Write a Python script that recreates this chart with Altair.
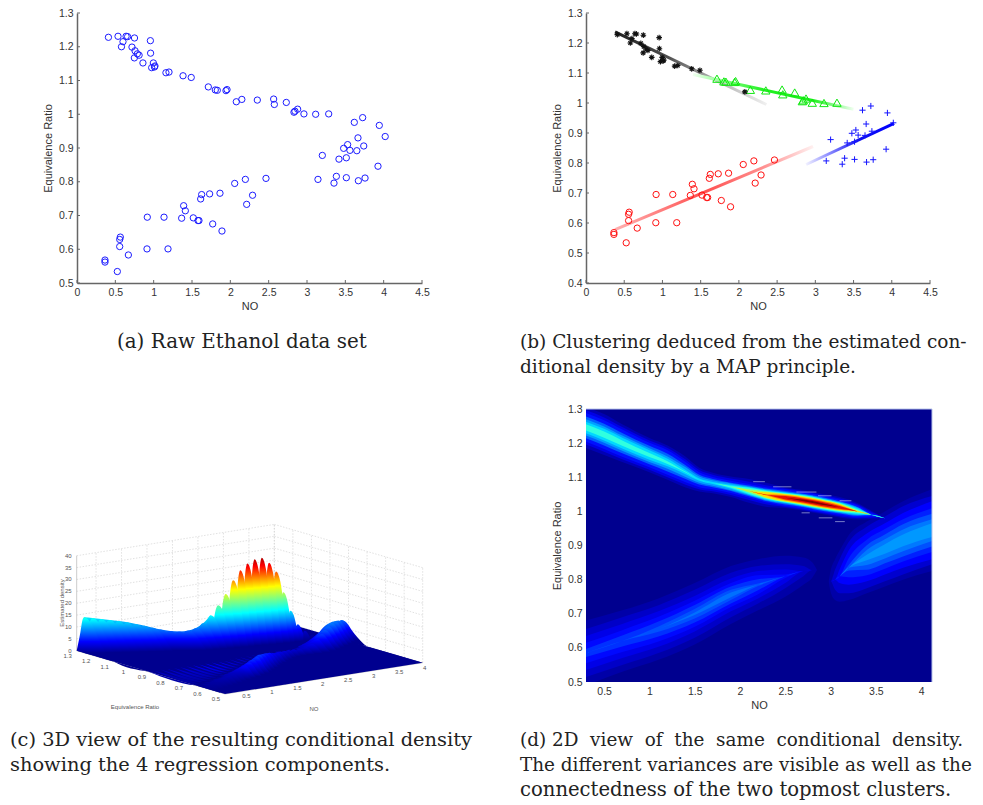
import altair as alt
import pandas as pd

# ---------- scatter data (NO, Equivalence Ratio), by cluster ----------
black_no = [.41,.535,.64,.66,.75,.60,.58,.957,.717,.757,.96,.787,.81,.748,.86,.996,.974,1.017,1.01,1.16,1.2,1.383,1.49,2.078]
black_er = [1.228,1.231,1.231,1.230,1.226,1.215,1.200,1.218,1.199,1.188,1.181,1.179,1.175,1.167,1.152,1.152,1.138,1.143,1.140,1.123,1.125,1.114,1.109,1.037]
green_no = [1.713,1.804,1.83,1.943,1.957,2.15,2.352,2.565,2.574,2.73,2.83,2.843,2.878,2.96,3.113,3.283]
green_er = [1.081,1.072,1.071,1.070,1.073,1.044,1.042,1.045,1.029,1.035,1.006,1.009,1.015,1.001,1.000,1.001]
blue_no = [3.617,3.726,3.943,4.02,3.665,3.53,3.478,3.56,3.65,3.74,3.513,3.417,3.2,3.926,3.383,3.143,3.352,3.513,3.67,3.757]
blue_er = [.976,.990,.967,.934,.930,.910,.899,.893,.892,.906,.871,.867,.878,.846,.816,.807,.796,.812,.803,.811]
red_no = [2.465,2.196,2.057,1.865,1.73,1.626,1.613,2.29,2.213,1.391,1.413,.917,1.135,1.365,1.517,1.578,1.591,1.77,1.891,.565,.557,.557,.913,1.187,.67,.365,.365,.526]
red_er = [.810,.807,.795,.766,.764,.762,.749,.760,.733,.729,.714,.695,.695,.692,.693,.685,.685,.675,.654,.636,.629,.608,.601,.601,.583,.568,.562,.534]

# regression lines of panel (b): end points and colour stops
reg_lines = [
    ([.38, 2.36], [1.237, .995], [(0, "#202020"), (.35, "#505050"), (.6, "#a0a0a0"), (1, "#f0f0f0")]),
    ([1.4, 3.5], [1.095, .979], [(0, "#f0fff0"), (.2, "#80ff80"), (.45, "#20f020"), (.75, "#20f020"), (1, "#f0fff0")]),
    ([.38, 2.97], [.578, .855], [(0, "#ffb0b0"), (.45, "#ff5050"), (.75, "#ff9090"), (1, "#fff0f0")]),
    ([2.88, 4.03], [.795, .932], [(0, "#f0f0ff"), (.25, "#9090ff"), (.6, "#1010f0"), (1, "#0000ff")]),
]

SANS = "Liberation Sans"
SERIF = "DejaVu Serif"
INK = "#333333"
TOP1 = 13
H1 = 270
NB = "\u00a0"


def caption(lines, left, top):
    out = []
    for px, py, size, text in lines:
        out.append(alt.Chart(pd.DataFrame({"t": [text]})).mark_text(
            font=SERIF, fontSize=size, align="left", baseline="alphabetic", color="#222222"
        ).encode(x=alt.value(px - left), y=alt.value(py - top), text="t:N"))
    return out


def df(no, er):
    return pd.DataFrame({"no": no, "er": er})


def axes(xdom, ydom, xticks, yticks, inner=True):
    X = alt.X("no:Q", scale=alt.Scale(domain=xdom, nice=False, zero=False), axis=alt.Axis(
        values=xticks, format=".1~f", title="NO", ticks=False, grid=False, labelFont=SANS, titleFont=SANS,
        labelFontSize=10.5, titleFontSize=11, titleFontWeight="normal", labelColor=INK, titleColor=INK,
        domainColor="#666666" if inner else "#ffffff00", domainWidth=1.5, labelPadding=4, titlePadding=3, labelFlush=False))
    Y = alt.Y("er:Q", scale=alt.Scale(domain=ydom, nice=False, zero=False), axis=alt.Axis(
        values=yticks, format=".1~f", title="Equivalence Ratio", ticks=False, grid=False, labelFont=SANS, titleFont=SANS,
        labelFontSize=10.5, titleFontSize=11, titleFontWeight="normal", labelColor=INK, titleColor=INK,
        domainColor="#666666" if inner else "#ffffff00", domainWidth=1.5, labelPadding=4, titlePadding=5))
    return X, Y


def inward_ticks(X, Y, xticks, yticks, h):
    t1 = alt.Chart(pd.DataFrame({"no": xticks})).mark_rule(color="#666666", strokeWidth=1).encode(
        x=X, y=alt.value(h), y2=alt.value(h - 3))
    t2 = alt.Chart(pd.DataFrame({"er": yticks})).mark_rule(color="#666666", strokeWidth=1).encode(
        y=Y, x=alt.value(0), x2=alt.value(3))
    return [t1, t2]


# ---------- panel (a) ----------
x_ticks = [0, .5, 1, 1.5, 2, 2.5, 3, 3.5, 4, 4.5]
y_a = [.5, .6, .7, .8, .9, 1, 1.1, 1.2, 1.3]
Xa, Ya = axes([0, 4.5], [.5, 1.3], x_ticks, y_a)
all_no = black_no + green_no + blue_no + red_no
all_er = black_er + green_er + blue_er + red_er
panel_a = alt.layer(
    *inward_ticks(Xa, Ya, x_ticks, y_a, H1),
    alt.Chart(df(all_no, all_er)).mark_point(shape="circle", filled=False, size=40, color="#1c1cff", strokeWidth=1, opacity=1).encode(x=Xa, y=Ya),
    *caption([(117, 348, 19.9, "(a) Raw Ethanol data set")], 77, TOP1),
).properties(width=345, height=H1)

# ---------- panel (b) ----------
y_b = [.4, .5, .6, .7, .8, .9, 1, 1.1, 1.2, 1.3]
Xb, Yb = axes([0, 4.5], [.4, 1.3], x_ticks, y_b)
PLUS = "M-1,0L1,0M0,-1L0,1"
STAR = "M-1,0L1,0M0,-1L0,1M-.7,-.7L.7,.7M-.7,.7L.7,-.7"
b_layers = inward_ticks(Xb, Yb, x_ticks, y_b, H1)
for xs, ys, stops in reg_lines:
    grad = alt.LinearGradient(gradient="linear", x1=0, x2=1, y1=0, y2=0,
                              stops=[alt.GradientStop(offset=o, color=c) for o, c in stops])
    b_layers.append(alt.Chart(df(xs, ys)).mark_line(stroke=grad, strokeWidth=3).encode(x=Xb, y=Yb))
b_layers += [
    alt.Chart(df(red_no, red_er)).mark_point(shape="circle", filled=False, size=40, color="#ff1010", strokeWidth=1, opacity=1).encode(x=Xb, y=Yb),
    alt.Chart(df(green_no, green_er)).mark_point(shape="triangle-up", filled=False, size=70, color="#10e810", strokeWidth=1, opacity=1).encode(x=Xb, y=Yb),
    alt.Chart(df(blue_no, blue_er)).mark_point(shape=PLUS, filled=False, size=38, color="#1414ff", strokeWidth=1, opacity=1).encode(x=Xb, y=Yb),
    alt.Chart(df(black_no, black_er)).mark_point(shape=STAR, filled=False, size=32, color="#111111", strokeWidth=1.1, opacity=1).encode(x=Xb, y=Yb),
]
b_layers += caption([(520, 348, 18.5, "(b)  Clustering deduced from the estimated con-"),
                     (520, 373, 18.5, "ditional density by a MAP principle.")], 586, TOP1)
panel_b = alt.layer(*b_layers).properties(width=344, height=H1)

# ---------- panel (c): 3D view, slices of the density at constant NO ----------
slice_no = [.12,.24,.36,.48,.6,.72,.84,.96,1.08,1.2,1.32,1.44,1.56,1.68,1.8,1.92,2.04,2.16,2.28,2.4,2.52,2.64,2.76,2.88,3.0,3.12,3.24,3.36,3.48,3.6,3.72,3.84,3.96,4.0]
up_center = [1.26,1.248,1.234,1.22,1.206,1.192,1.178,1.164,1.152,1.143,1.125,1.108,1.092,1.085,1.078,1.071,1.064,1.057,1.05,1.044,1.039,1.033,1.027,1.021,1.016,1.01,1.004,.998,.992,.986,.98,.975,.97,.97]
up_peak = [15,14.6,14,13.5,13,12.4,11.6,10.8,9.8,8.8,8.2,8,8.4,9.2,11,14,18,22.5,28,32,34.5,36,36.4,34,30,21,13,7,4,2,1,.5,.1,.1]
up_width = [.16,.16,.16,.16,.16,.16,.16,.16,.16,.16,.15,.15,.15,.14,.13,.12,.11,.10,.10,.09,.09,.09,.09,.09,.09,.08,.07,.06,.05,.05,.05,.05,.05,.05]
lo_center = [.57,.58,.59,.60,.61,.62,.635,.645,.655,.665,.68,.69,.71,.725,.74,.755,.77,.78,.795,.805,.815,.82,.82,.82,.82,.825,.835,.85,.865,.88,.895,.91,.925,.93]
lo_peak = [2,2.4,2.8,3.2,3.4,3.6,4,4.6,5.2,5.8,6.4,6.8,6.8,6.4,6,5.4,4.6,4.2,3.8,3.4,3.2,3,2.8,3,4,5.5,7,8,8.8,9.4,9.4,9,8.4,8]
lo_width = [.09,.09,.09,.09,.09,.09,.095,.095,.095,.1,.1,.1,.1,.1,.1,.095,.09,.085,.08,.075,.07,.06,.06,.08,.1,.11,.12,.125,.125,.13,.13,.13,.13,.13]
jet_z = [0, 4.75, 14, 19, 24, 33, 38.5]
jet_c = [(0, 0, 143), (0, 0, 255), (0, 255, 255), (128, 255, 128), (255, 255, 0), (255, 0, 0), (128, 0, 0)]
z_ticks = [0, 5, 10, 15, 20, 25, 30, 35, 40]
er_ticks3 = [1.3, 1.2, 1.1, 1, .9, .8, .7, .6, .5]
no_ticks3 = [.5, 1, 1.5, 2, 2.5, 3, 3.5, 4]


def proj(no, er, z=0.0):
    return (225 + 50.95 * (no - .12) - 185.4 * (er - .5),
            694 - 8.07 * (no - .12) - 54.1 * (er - .5) - 2.375 * z)


def hexcol(c):
    return "#%02x%02x%02x" % tuple(int(round(v)) for v in c)


def jet(z):
    for i in range(len(jet_z) - 1):
        if z <= jet_z[i + 1]:
            f = (z - jet_z[i]) / (jet_z[i + 1] - jet_z[i])
            return hexcol([a + (b - a) * f for a, b in zip(jet_c[i], jet_c[i + 1])])
    return hexcol(jet_c[-1])


XC = alt.X("px:Q", scale=alt.Scale(domain=[77, 422], nice=False, zero=False), axis=None)
YC = alt.Y("py:Q", scale=alt.Scale(domain=[682, 409], nice=False, zero=False), axis=None)
X2C = alt.X2("px2:Q")
Y2C = alt.Y2("py2:Q")


def seg_rows(segs):
    rows = []
    for a, b in segs:
        p, q = proj(*a), proj(*b)
        rows.append({"px": p[0], "py": p[1], "px2": q[0], "py2": q[1]})
    return pd.DataFrame(rows)


grid_segs = []
for z in z_ticks:
    grid_segs.append(((.12, 1.3, z), (4, 1.3, z)))
    grid_segs.append(((4, 1.3, z), (4, .5, z)))
for n in no_ticks3:
    grid_segs.append(((n, 1.3, 0), (n, 1.3, 40)))
for e in er_ticks3:
    grid_segs.append(((4, e, 0), (4, e, 40)))

c_layers = [
    alt.Chart(seg_rows(grid_segs)).mark_rule(color="#d4d4d4", strokeWidth=.7, strokeDash=[1.5, 1.5]).encode(x=XC, y=YC, x2=X2C, y2=Y2C),
    alt.Chart(seg_rows([((.12, 1.3, 0), (.12, 1.3, 40)), ((.12, 1.3, 0), (.12, .5, 0)), ((.12, .5, 0), (4, .5, 0))])).mark_rule(
        color="#c0c0c0", strokeWidth=.8).encode(x=XC, y=YC, x2=X2C, y2=Y2C),
]

# floor of the surface, on which the slices stand
cL, cF, cB, cR = proj(.12, 1.3), proj(.12, .5), proj(4, 1.3), proj(4, .5)
floor_rows = [
    {"px": cL[0], "py": cL[1], "py2": cL[1]},
    {"px": cF[0], "py": cL[1] + (cB[1] - cL[1]) * (cF[0] - cL[0]) / (cB[0] - cL[0]), "py2": cF[1]},
    {"px": cB[0], "py": cB[1], "py2": cF[1] + (cR[1] - cF[1]) * (cB[0] - cF[0]) / (cR[0] - cF[0])},
    {"px": cR[0], "py": cR[1], "py2": cR[1]},
]
c_layers.append(alt.Chart(pd.DataFrame(floor_rows)).mark_area(color=hexcol(jet_c[0])).encode(x=XC, y=YC, y2=alt.Y2("py2:Q")))


def piece(no, knots):
    rows = []
    for er, z in knots:
        tx, ty = proj(no, er, z)
        bx, by = proj(no, er, 0)
        rows.append({"px": tx, "py": ty, "py2": by})
    d = pd.DataFrame(rows)
    ymin = d["py"].min()
    ymax = d["py2"].max()
    peak_i = max(range(len(knots)), key=lambda i: knots[i][1])
    base_y = rows[peak_i]["py2"]
    peak = knots[peak_i][1]
    span = max(ymax - ymin, .1)

    def off(z):
        return min(1, max(0, (base_y - 2.375 * z - ymin) / span))

    stops = [(0.0, jet(peak))]
    for zv, cv in reversed(list(zip(jet_z, jet_c))):
        if zv < peak:
            o = off(zv)
            if o > stops[-1][0]:
                stops.append((o, hexcol(cv)))
    stops.append((1.0, hexcol(jet_c[0])))
    grad = alt.LinearGradient(gradient="linear", x1=0, x2=0, y1=0, y2=1,
                              stops=[alt.GradientStop(offset=o, color=c) for o, c in stops])
    return alt.Chart(d).mark_area(fill=grad, interpolate="monotone", line=False).encode(x=XC, y=YC, y2=alt.Y2("py2:Q"))


ENVELOPE_FROM = 15  # index of the first slice whose crest is joined to the nearer ones
for i in reversed(range(len(slice_no))):
    n, c, p, w, lc, lp, lw = slice_no[i], up_center[i], up_peak[i], up_width[i], lo_center[i], lo_peak[i], lo_width[i]
    split = max(((c - w) + (lc + lw)) / 2, (c + lc) / 2)
    wt = min(w * .5, 1.3 - c)
    upper = [(1.3, 0), (c + wt, 0), (c + wt * .5, p * .55), (c + wt * .25, p * .88), (c, p),
             (c - w * .25, p * .88), (c - w * .5, p * .5), (c - w * .75, p * .15), (c - w, 0), (split, 0)]
    lower = [(split, 0), (lc + lw, 0), (lc + lw * .5, lp * .45), (lc, lp), (lc - lw * .5, lp * .45), (lc - lw, 0), (.5, 0)]
    upper = [k for j, k in enumerate(upper) if k[0] >= split and (j == 0 or k[0] < upper[j - 1][0])]
    lower = [k for j, k in enumerate(lower) if k[0] <= split and k[0] >= .5 and (j == 0 or k[0] < lower[j - 1][0])]
    if i == ENVELOPE_FROM:
        rows = []
        for j in range(0, ENVELOPE_FROM + 1):
            tx, ty = proj(slice_no[j], up_center[j], up_peak[j])
            rows.append({"px": tx, "py": ty, "py2": proj(slice_no[j], up_center[j], 0)[1]})
        env = alt.LinearGradient(gradient="linear", x1=0, x2=0, y1=0, y2=1, stops=[
            alt.GradientStop(offset=0, color=jet(14)), alt.GradientStop(offset=.45, color=jet(8)), alt.GradientStop(offset=1, color=jet(2))])
        c_layers.append(alt.Chart(pd.DataFrame(rows)).mark_area(fill=env, interpolate="monotone", line=False).encode(x=XC, y=YC, y2=alt.Y2("py2:Q")))
    c_layers.append(piece(n, upper))
    c_layers.append(piece(n, lower))


def small_text(rows, angle=0, align="center"):
    d = pd.DataFrame(rows, columns=["px", "py", "t"])
    return alt.Chart(d).mark_text(font=SANS, fontSize=6, color="#555555", angle=angle, align=align, baseline="middle").encode(x=XC, y=YC, text="t:N")


z_rows = [(proj(.12, 1.3, z)[0] - 5, proj(.12, 1.3, z)[1], f"{z}") for z in z_ticks]
er_rows = [(proj(.12, e)[0] - 9, proj(.12, e)[1] + 5, f"{e:g}") for e in er_ticks3]
no_rows = [(proj(n, .5)[0] + 2, proj(n, .5)[1] + 5, f"{n:g}") for n in no_ticks3]
c_layers += [small_text(z_rows, align="right"), small_text(er_rows), small_text(no_rows),
             small_text([(135, 707, "Equivalence Ratio")]), small_text([(314, 709, "NO")]),
             small_text([(62, 603, "Estimated density")], angle=270)]
c_layers += caption([(10, 746, 19.4, "(c) 3D view of the resulting conditional density"),
                     (10, 771, 19.4, "showing the 4 regression components.")], 77, 409)
panel_c = alt.layer(*c_layers).properties(width=345, height=273)

# ---------- panel (d): filled density bands ----------
# top ridge: station NO, ridge centre, then half-width of each colour band
top_no = [.3,.5,.7,1.0,1.2,1.4,1.55,1.7,1.9,2.1,2.3,2.5,2.7,2.9,3.1,3.3,3.45,3.6]
top_center = [1.246,1.225,1.20,1.165,1.143,1.115,1.093,1.083,1.072,1.060,1.048,1.040,1.032,1.022,1.012,1.000,.99,.98]
top_bands = [
    ("#0000b4", [.06,.06,.055,.05,.05,.045,.035,.03,.03,.035,.035,.03,.03,.03,.03,.024,.012,0]),
    ("#0000e6", [.05,.05,.047,.043,.043,.037,.028,.024,.024,.027,.028,.027,.027,.027,.026,.02,.009,0]),
    ("#0010ff", [.042,.042,.04,.036,.036,.03,.022,.018,.018,.02,.022,.024,.024,.024,.022,.017,.005,0]),
    ("#0060ff", [.032,.032,.03,.027,.026,.02,.014,.012,.012,.016,.018,.02,.02,.02,.018,.013,.001,0]),
    ("#00a0ff", [.024,.024,.022,.02,.018,.014,.009,.008,.01,.013,.016,.017,.018,.018,.016,.011,0,0]),
    ("#00d8ff", [.017,.017,.016,.014,.011,.006,.003,.003,.006,.011,.014,.015,.016,.016,.014,.009,0,0]),
    ("#30ffe0", [.009,.009,.008,.006,.004,.001,0,0,.003,.009,.012,.014,.015,.015,.013,.006,0,0]),
    ("#a0ff60", [0,0,0,0,0,0,0,0,0,.005,.01,.012,.013,.013,.011,.003,0,0]),
    ("#ffe000", [0,0,0,0,0,0,0,0,0,0,.008,.01,.011,.011,.009,.001,0,0]),
    ("#ff8000", [0,0,0,0,0,0,0,0,0,0,.002,.008,.009,.009,.007,0,0,0]),
    ("#e81000", [0,0,0,0,0,0,0,0,0,0,0,.005,.006,.006,.004,0,0,0]),
    ("#840000", [0,0,0,0,0,0,0,0,0,0,0,0,.0025,.0025,0,0,0,0]),
]
low_no = [.3,.7,1.1,1.5,1.9,2.2,2.5,2.7,2.8,2.85]
low_center = [.585,.62,.655,.70,.755,.785,.81,.825,.828,.828]
low_bands = [
    ("#0000a8", [.095,.09,.09,.09,.085,.075,.06,.04,.022,0]),
    ("#0000c8", [.07,.07,.07,.07,.065,.055,.035,.015,0,0]),
    ("#0000e8", [.05,.05,.052,.052,.048,.04,.02,0,0,0]),
    ("#0008ff", [.03,.032,.036,.038,.035,.028,.005,0,0,0]),
    ("#0030ff", [.012,.016,.022,.026,.025,.016,0,0,0,0]),
    ("#0050ff", [0,0,.008,.014,.015,.004,0,0,0,0]),
    ("#0070ff", [0,0,0,.004,.007,0,0,0,0,0]),
]
right_no = [2.98,3.0,3.05,3.1,3.2,3.4,3.6,3.8,4.12]
right_center = [.795,.795,.80,.81,.835,.865,.89,.915,.945]
right_bands = [
    ("#0000a8", [0,.03,.06,.075,.095,.105,.11,.115,.12]),
    ("#0000d0", [0,0,.03,.05,.075,.09,.095,.10,.10]),
    ("#0000ff", [0,0,0,.02,.05,.07,.075,.08,.085]),
    ("#0020ff", [0,0,0,0,.028,.052,.058,.062,.064]),
    ("#0050ff", [0,0,0,0,.008,.036,.042,.047,.048]),
    ("#0078ff", [0,0,0,0,0,.022,.028,.032,.032]),
    ("#0098ff", [0,0,0,0,0,.008,.014,.017,.02]),
]
dash_x1 = [2.146,2.366,2.623,2.862,3.10,2.68,2.87,3.05]
dash_x2 = [2.275,2.568,2.844,3.01,3.23,2.77,3.02,3.157]
dash_y = [1.087,1.072,1.0566,1.0457,1.031,.9957,.981,.970]

d_xt = [.5, 1, 1.5, 2, 2.5, 3, 3.5, 4]
Xd, Yd = axes([.3, 4.12], [.5, 1.3], d_xt, y_a, inner=False)
d_layers = [alt.Chart(pd.DataFrame({"no": [.3], "no2": [4.12], "er": [.5], "er2": [1.3]})).mark_rect(color="#00008f").encode(
    x=Xd, x2=alt.X2("no2:Q"), y=Yd, y2=alt.Y2("er2:Q"))]
for no_list, center, bands in [(low_no, low_center, low_bands), (right_no, right_center, right_bands), (top_no, top_center, top_bands)]:
    for col, hw in bands:
        d = pd.DataFrame({"no": no_list, "er": [c - h for c, h in zip(center, hw)], "er2": [c + h for c, h in zip(center, hw)]})
        d_layers.append(alt.Chart(d).mark_area(color=col, interpolate="monotone", clip=True).encode(x=Xd, y=Yd, y2=alt.Y2("er2:Q")))
d_layers.append(alt.Chart(pd.DataFrame({"no": dash_x1, "no2": dash_x2, "er": dash_y})).mark_rule(color="#c8d0f0", strokeWidth=1, opacity=.6).encode(
    x=Xd, x2=alt.X2("no2:Q"), y=Yd))
d_layers.append(alt.Chart(pd.DataFrame({"k": [0]})).mark_rule(color="#b8c4ea", strokeWidth=1).encode(x=alt.value(0), x2=alt.value(346), y=alt.value(0)))
d_layers.append(alt.Chart(pd.DataFrame({"k": [0]})).mark_rule(color="#b8c4ea", strokeWidth=1).encode(y=alt.value(0), y2=alt.value(273), x=alt.value(346)))
d_layers += caption([(520, 746, 18.4, f"(d) 2D{NB} view{NB} of{NB} the{NB} same{NB} conditional{NB} density."),
                     (520, 771, 18.4, "The different variances are visible as well as the"),
                     (520, 796, 19.6, "connectedness of the two topmost clusters.")], 586, 409)
panel_d = alt.layer(*d_layers).properties(width=346, height=273)

chart = alt.concat(panel_a, panel_b, panel_c, panel_d, columns=2, spacing={"row": 126, "column": 164}, bounds="flush").properties(
    padding={"left": 2, "top": 0, "right": 0, "bottom": 0}
).configure_view(stroke=None)

chart.save("out.html", embed_options={"renderer": "svg", "actions": False})
